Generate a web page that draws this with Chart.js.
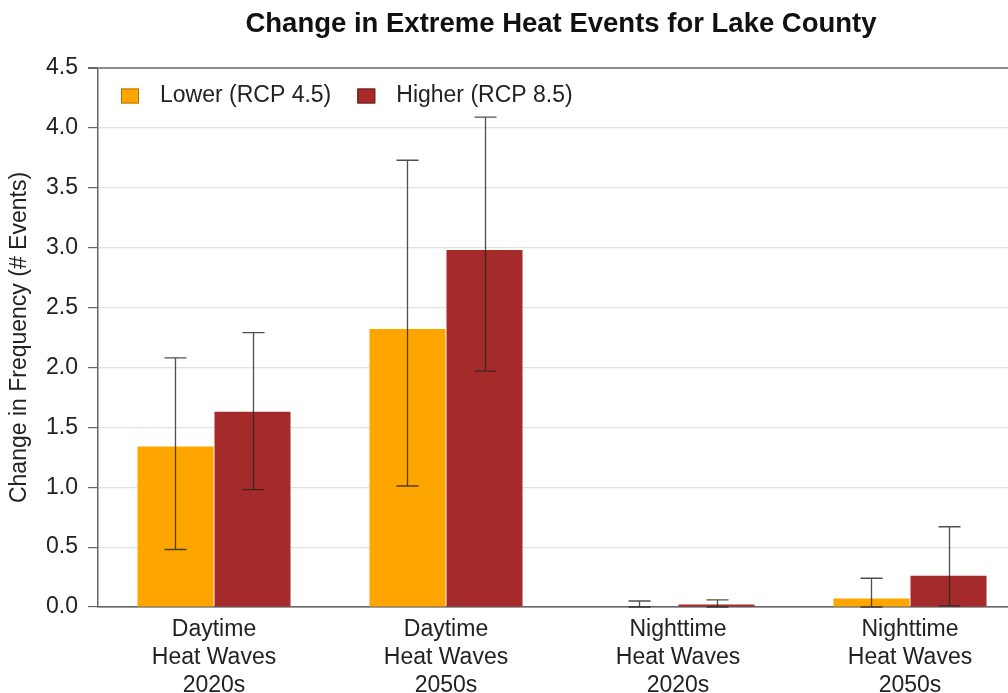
<!DOCTYPE html>
<html>
<head>
<meta charset="utf-8">
<script src="https://cdn.jsdelivr.net/npm/chart.js@4.4.1/dist/chart.umd.min.js"></script>
<style>
  html, body { margin: 0; padding: 0; background: #fff; overflow: hidden; }
  #wrap { width: 1026px; height: 693px; }
</style>
</head>
<body>
<div id="wrap"><canvas id="chart" width="1026" height="693"></canvas></div>
<script>
// Chart text
const chartTitle = 'Change in Extreme Heat Events for Lake County';
const yAxisTitle = 'Change in Frequency (# Events)';

// Categories (multi-line axis labels)
const categories = [
  ['Daytime', 'Heat Waves', '2020s'],
  ['Daytime', 'Heat Waves', '2050s'],
  ['Nighttime', 'Heat Waves', '2020s'],
  ['Nighttime', 'Heat Waves', '2050s']
];

// Series names
const lowerName = 'Lower (RCP 4.5)';
const higherName = 'Higher (RCP 8.5)';

// Mean change per category, with error range (low / high)
const lowerMean = [1.34, 2.32, 0.005, 0.07];
const lowerLow  = [0.48, 1.01, 0.00, 0.00];
const lowerHigh = [2.08, 3.73, 0.05, 0.24];

const higherMean = [1.63, 2.98, 0.02, 0.26];
const higherLow  = [0.98, 1.97, 0.00, 0.01];
const higherHigh = [2.29, 4.09, 0.06, 0.67];

// Y axis ticks
const yTicks = [0, 0.5, 1.0, 1.5, 2.0, 2.5, 3.0, 3.5, 4.0, 4.5];

const FONT = "'Liberation Sans', Arial, sans-serif";
const ORANGE = '#FFA500';
const ORANGE_EDGE = '#B87400';
const RED = '#A52A2A';
const RED_EDGE = '#6E1A1A';

// Draws the vertical error range with caps on each bar
const errorBars = {
  id: 'errorBars',
  afterDatasetsDraw(chart) {
    const ctx = chart.ctx;
    const y = chart.scales.y;
    chart.data.datasets.forEach((ds, di) => {
      const meta = chart.getDatasetMeta(di);
      meta.data.forEach((bar, i) => {
        const x = Math.round(bar.x) + 0.5;
        const top = y.getPixelForValue(ds.errHigh[i]);
        const bot = y.getPixelForValue(ds.errLow[i]);
        ctx.save();
        ctx.strokeStyle = 'rgba(35,35,35,0.8)';
        ctx.lineWidth = 1.3;
        ctx.beginPath();
        ctx.moveTo(x, top); ctx.lineTo(x, bot);
        ctx.moveTo(x - 11, top); ctx.lineTo(x + 11, top);
        ctx.moveTo(x - 11, bot); ctx.lineTo(x + 11, bot);
        ctx.stroke();
        ctx.restore();
      });
    });
  }
};

// Legend drawn inside the top-left corner of the plotting area
const insideLegend = {
  id: 'insideLegend',
  afterDraw(chart) {
    const { ctx, chartArea } = chart;
    ctx.save();
    ctx.font = `23px ${FONT}`;
    ctx.textBaseline = 'middle';
    ctx.textAlign = 'left';
    let x = chartArea.left + 23;
    const yMid = chartArea.top + 28;
    chart.data.datasets.forEach((ds) => {
      ctx.fillStyle = ds.backgroundColor;
      ctx.fillRect(x, yMid - 7.5, 18, 15);
      ctx.strokeStyle = ds.edgeColor;
      ctx.lineWidth = 1;
      ctx.strokeRect(x + 0.5, yMid - 7, 17, 14);
      ctx.fillStyle = '#222';
      ctx.fillText(ds.label, x + 39, yMid);
      x += 39 + ctx.measureText(ds.label).width + 26;
    });
    ctx.restore();
  }
};

// Title centred over the plotting area
const areaTitle = {
  id: 'areaTitle',
  afterDraw(chart) {
    const { ctx, chartArea } = chart;
    ctx.save();
    ctx.font = `bold 27.5px ${FONT}`;
    ctx.fillStyle = '#111';
    ctx.textAlign = 'center';
    ctx.textBaseline = 'middle';
    ctx.fillText(chartTitle, (chartArea.left + chartArea.right) / 2 - 1, 24);
    ctx.restore();
  }
};

new Chart(document.getElementById('chart'), {
  type: 'bar',
  data: {
    labels: categories,
    datasets: [
      {
        label: lowerName,
        data: lowerMean,
        errLow: lowerLow,
        errHigh: lowerHigh,
        backgroundColor: ORANGE,
        edgeColor: ORANGE_EDGE,
        borderWidth: 0
      },
      {
        label: higherName,
        data: higherMean,
        errLow: higherLow,
        errHigh: higherHigh,
        backgroundColor: RED,
        edgeColor: RED_EDGE,
        borderWidth: 0
      }
    ]
  },
  options: {
    responsive: false,
    devicePixelRatio: 1,
    animation: false,
    layout: { padding: { top: 68, left: 0, right: 0, bottom: 0 } },
    datasets: {
      bar: { categoryPercentage: 0.664, barPercentage: 0.987 }
    },
    plugins: {
      title: { display: false },
      legend: { display: false },
      tooltip: { enabled: false }
    },
    scales: {
      x: {
        z: 1,
        grid: { display: false },
        border: { display: true, color: '#666', width: 1.5 },
        ticks: {
          color: '#222',
          padding: 1,
          maxRotation: 0,
          autoSkip: false,
          font: { family: FONT, size: 23, lineHeight: 1.22 }
        },
        afterFit(scale) { scale.height = 86; }
      },
      y: {
        z: 1,
        min: 0,
        max: 4.5,
        afterBuildTicks(scale) { scale.ticks = yTicks.map(v => ({ value: v })); },
        grid: {
          tickLength: 10,
          tickColor: '#666',
          color(ctx) {
            if (ctx.tick && ctx.tick.value === 4.5) return '#8c8c8c';
            if (ctx.tick && ctx.tick.value === 0) return '#666';
            return 'rgba(215,215,215,0.75)';
          },
          lineWidth(ctx) {
            return ctx.tick && ctx.tick.value === 4.5 ? 2 : 1.2;
          }
        },
        border: { display: true, color: '#666', width: 1.5 },
        ticks: {
          color: '#222',
          padding: 10,
          font: { family: FONT, size: 23 },
          callback: (v) => Number(v).toFixed(1)
        },
        title: {
          display: true,
          text: yAxisTitle,
          color: '#222',
          padding: { top: 6, bottom: 0 },
          font: { family: FONT, size: 23 }
        },
        afterFit(scale) { scale.width = 98; }
      }
    }
  },
  plugins: [errorBars, insideLegend, areaTitle]
});
</script>
</body>
</html>
